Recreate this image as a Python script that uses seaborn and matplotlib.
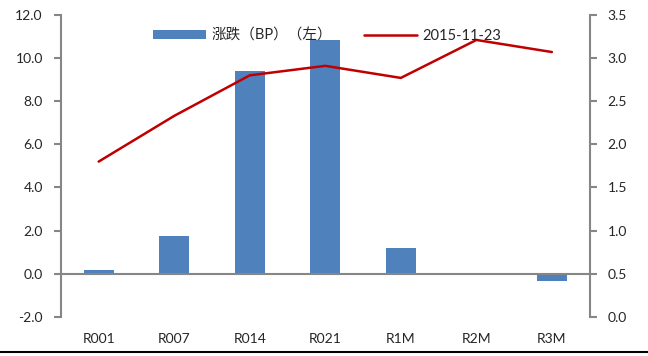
import numpy as np
import pandas as pd
import matplotlib
matplotlib.use("Agg")
import matplotlib.pyplot as plt
import seaborn as sns
from matplotlib.lines import Line2D

# datos
categorias = ["R001", "R007", "R014", "R021", "R1M", "R2M", "R3M"]
cambio_bp = [0.15, 1.75, 9.4, 10.85, 1.2, 0.0, -0.35]
tasa_20151123 = [1.80, 2.33, 2.80, 2.91, 2.77, 3.21, 3.07]

etiqueta_barras = "涨跌（BP）（左）"
etiqueta_linea = "2015-11-23"

df = pd.DataFrame({"cat": categorias, "bp": cambio_bp, "tasa": tasa_20151123})
df["pos"] = np.arange(len(df))

sns.set_style("white")
plt.rcParams["font.family"] = ["Lato", "Noto Sans CJK SC", "DejaVu Sans"]
plt.rcParams["font.size"] = 10

gris = "#868686"
fig = plt.figure(figsize=(6.48, 3.56), dpi=100)
ax = fig.add_axes([0.094, 0.11, 0.816, 0.848])

sns.barplot(data=df, x="cat", y="bp", color="#4F81BD", width=0.4,
            saturation=1, ax=ax, label=etiqueta_barras, legend=False,
            zorder=2, linewidth=0)
ax.set_xlim(-0.5, len(categorias) - 0.5)
ax.set_ylim(-2, 12)
ax.set_yticks(np.arange(-2, 12.1, 2))
ax.set_yticklabels([f"{v:.1f}" for v in np.arange(-2, 12.1, 2)])
ax.set_xlabel("")
ax.set_ylabel("")

# eje x sobre el cero
ax.spines["bottom"].set_position(("data", 0))
ax.spines["top"].set_visible(False)
ax.spines["right"].set_visible(False)
for s in ["bottom", "left"]:
    ax.spines[s].set_color(gris)
    ax.spines[s].set_linewidth(1.5)
ax.set_xticks(np.arange(0.5, len(categorias) - 1, 1), minor=True)
ax.tick_params(axis="x", which="major", length=0, pad=43)
ax.tick_params(axis="x", which="minor", length=4, width=1.5, color=gris, direction="out")
ax.tick_params(axis="y", length=5, width=1.5, color=gris, direction="out", pad=8)

ax2 = ax.twinx()
sns.lineplot(data=df, x="pos", y="tasa", color="#C00000", linewidth=1.8,
             ax=ax2, label=etiqueta_linea, legend=False)
ax2.set_ylim(0, 3.5)
ax2.set_yticks(np.arange(0, 3.51, 0.5))
ax2.set_yticklabels([f"{v:.1f}" for v in np.arange(0, 3.51, 0.5)])
ax2.set_ylabel("")
for s in ["top", "left", "bottom"]:
    ax2.spines[s].set_visible(False)
ax2.spines["right"].set_color(gris)
ax2.spines["right"].set_linewidth(1.5)
ax2.tick_params(axis="y", length=5, width=1.5, color=gris, direction="out", pad=8)

h1, l1 = ax.get_legend_handles_labels()
h2, l2 = ax2.get_legend_handles_labels()
ax2.legend(h1 + h2, l1 + l2, loc="center", bbox_to_anchor=(0.505, 0.9),
           bbox_transform=fig.transFigure, ncol=2, frameon=False, fontsize=10.5,
           handlelength=3.6, handleheight=0.5, columnspacing=2.2,
           handletextpad=0.4)

# linea negra inferior
fig.add_artist(Line2D([0, 1], [0.012, 0.012], color="black", linewidth=1.5,
                      transform=fig.transFigure))

fig.savefig("out.png", dpi=100)
